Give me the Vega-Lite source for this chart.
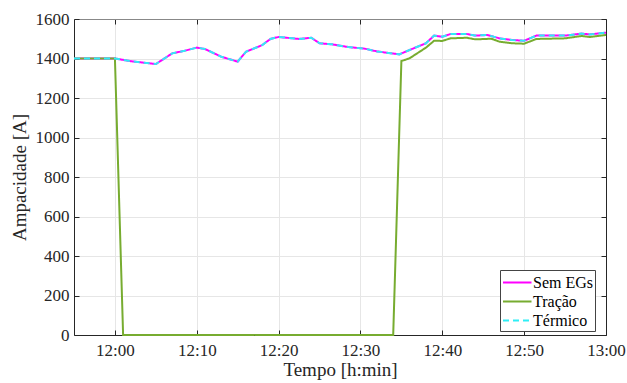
{
  "$schema": "https://vega.github.io/schema/vega-lite/v6.json",
  "width": 532,
  "height": 316,
  "autosize": {"type": "none"},
  "padding": {"left": 74, "top": 19, "right": 21, "bottom": 48},
  "background": "white",
  "config": {
    "font": "Liberation Serif",
    "view": {"stroke": null},
    "axis": {
      "labelFont": "Liberation Serif",
      "titleFont": "Liberation Serif",
      "labelFontSize": 17,
      "titleFontSize": 19,
      "titleFontWeight": "normal",
      "labelColor": "#262626",
      "titleColor": "#262626",
      "domainColor": "#262626",
      "tickColor": "#262626",
      "gridColor": "#e6e6e6",
      "gridWidth": 1
    },
    "legend": {"labelFont": "Liberation Serif"}
  },
  "data": {
    "values": [
      {"t": "2020-01-01T11:55:00", "serie": "Sem EGs", "v": 1400},
      {"t": "2020-01-01T12:00:00", "serie": "Sem EGs", "v": 1400},
      {"t": "2020-01-01T12:02:00", "serie": "Sem EGs", "v": 1386},
      {"t": "2020-01-01T12:05:00", "serie": "Sem EGs", "v": 1372},
      {"t": "2020-01-01T12:07:00", "serie": "Sem EGs", "v": 1426},
      {"t": "2020-01-01T12:08:30", "serie": "Sem EGs", "v": 1439},
      {"t": "2020-01-01T12:10:00", "serie": "Sem EGs", "v": 1455},
      {"t": "2020-01-01T12:11:00", "serie": "Sem EGs", "v": 1448},
      {"t": "2020-01-01T12:13:00", "serie": "Sem EGs", "v": 1409},
      {"t": "2020-01-01T12:15:00", "serie": "Sem EGs", "v": 1384},
      {"t": "2020-01-01T12:16:00", "serie": "Sem EGs", "v": 1434},
      {"t": "2020-01-01T12:18:00", "serie": "Sem EGs", "v": 1468},
      {"t": "2020-01-01T12:19:00", "serie": "Sem EGs", "v": 1499},
      {"t": "2020-01-01T12:20:00", "serie": "Sem EGs", "v": 1509},
      {"t": "2020-01-01T12:22:30", "serie": "Sem EGs", "v": 1499},
      {"t": "2020-01-01T12:24:00", "serie": "Sem EGs", "v": 1505},
      {"t": "2020-01-01T12:25:00", "serie": "Sem EGs", "v": 1477},
      {"t": "2020-01-01T12:26:30", "serie": "Sem EGs", "v": 1472},
      {"t": "2020-01-01T12:28:30", "serie": "Sem EGs", "v": 1458},
      {"t": "2020-01-01T12:30:30", "serie": "Sem EGs", "v": 1450},
      {"t": "2020-01-01T12:32:00", "serie": "Sem EGs", "v": 1436},
      {"t": "2020-01-01T12:34:45", "serie": "Sem EGs", "v": 1421},
      {"t": "2020-01-01T12:36:00", "serie": "Sem EGs", "v": 1443},
      {"t": "2020-01-01T12:38:00", "serie": "Sem EGs", "v": 1477},
      {"t": "2020-01-01T12:39:00", "serie": "Sem EGs", "v": 1516},
      {"t": "2020-01-01T12:40:00", "serie": "Sem EGs", "v": 1510},
      {"t": "2020-01-01T12:41:00", "serie": "Sem EGs", "v": 1524},
      {"t": "2020-01-01T12:43:00", "serie": "Sem EGs", "v": 1524},
      {"t": "2020-01-01T12:44:00", "serie": "Sem EGs", "v": 1516},
      {"t": "2020-01-01T12:45:30", "serie": "Sem EGs", "v": 1519},
      {"t": "2020-01-01T12:47:00", "serie": "Sem EGs", "v": 1502},
      {"t": "2020-01-01T12:48:30", "serie": "Sem EGs", "v": 1494},
      {"t": "2020-01-01T12:50:00", "serie": "Sem EGs", "v": 1490},
      {"t": "2020-01-01T12:51:30", "serie": "Sem EGs", "v": 1516},
      {"t": "2020-01-01T12:55:00", "serie": "Sem EGs", "v": 1516},
      {"t": "2020-01-01T12:57:00", "serie": "Sem EGs", "v": 1526},
      {"t": "2020-01-01T12:58:00", "serie": "Sem EGs", "v": 1522},
      {"t": "2020-01-01T13:00:00", "serie": "Sem EGs", "v": 1531},

      {"t": "2020-01-01T11:55:00", "serie": "Tração", "v": 1400},
      {"t": "2020-01-01T12:00:00", "serie": "Tração", "v": 1400},
      {"t": "2020-01-01T12:01:00", "serie": "Tração", "v": 0},
      {"t": "2020-01-01T12:34:00", "serie": "Tração", "v": 0},
      {"t": "2020-01-01T12:35:00", "serie": "Tração", "v": 1387},
      {"t": "2020-01-01T12:36:00", "serie": "Tração", "v": 1401},
      {"t": "2020-01-01T12:38:00", "serie": "Tração", "v": 1455},
      {"t": "2020-01-01T12:39:00", "serie": "Tração", "v": 1490},
      {"t": "2020-01-01T12:40:00", "serie": "Tração", "v": 1489},
      {"t": "2020-01-01T12:41:00", "serie": "Tração", "v": 1502},
      {"t": "2020-01-01T12:43:00", "serie": "Tração", "v": 1505},
      {"t": "2020-01-01T12:44:00", "serie": "Tração", "v": 1497},
      {"t": "2020-01-01T12:46:00", "serie": "Tração", "v": 1500},
      {"t": "2020-01-01T12:47:00", "serie": "Tração", "v": 1485},
      {"t": "2020-01-01T12:48:30", "serie": "Tração", "v": 1477},
      {"t": "2020-01-01T12:50:00", "serie": "Tração", "v": 1475},
      {"t": "2020-01-01T12:51:30", "serie": "Tração", "v": 1499},
      {"t": "2020-01-01T12:55:00", "serie": "Tração", "v": 1502},
      {"t": "2020-01-01T12:57:00", "serie": "Tração", "v": 1514},
      {"t": "2020-01-01T12:58:00", "serie": "Tração", "v": 1509},
      {"t": "2020-01-01T13:00:00", "serie": "Tração", "v": 1519},

      {"t": "2020-01-01T11:55:00", "serie": "Térmico", "v": 1400},
      {"t": "2020-01-01T12:00:00", "serie": "Térmico", "v": 1400},
      {"t": "2020-01-01T12:02:00", "serie": "Térmico", "v": 1386},
      {"t": "2020-01-01T12:05:00", "serie": "Térmico", "v": 1372},
      {"t": "2020-01-01T12:07:00", "serie": "Térmico", "v": 1426},
      {"t": "2020-01-01T12:08:30", "serie": "Térmico", "v": 1439},
      {"t": "2020-01-01T12:10:00", "serie": "Térmico", "v": 1455},
      {"t": "2020-01-01T12:11:00", "serie": "Térmico", "v": 1448},
      {"t": "2020-01-01T12:13:00", "serie": "Térmico", "v": 1409},
      {"t": "2020-01-01T12:15:00", "serie": "Térmico", "v": 1384},
      {"t": "2020-01-01T12:16:00", "serie": "Térmico", "v": 1434},
      {"t": "2020-01-01T12:18:00", "serie": "Térmico", "v": 1468},
      {"t": "2020-01-01T12:19:00", "serie": "Térmico", "v": 1499},
      {"t": "2020-01-01T12:20:00", "serie": "Térmico", "v": 1509},
      {"t": "2020-01-01T12:22:30", "serie": "Térmico", "v": 1499},
      {"t": "2020-01-01T12:24:00", "serie": "Térmico", "v": 1505},
      {"t": "2020-01-01T12:25:00", "serie": "Térmico", "v": 1477},
      {"t": "2020-01-01T12:26:30", "serie": "Térmico", "v": 1472},
      {"t": "2020-01-01T12:28:30", "serie": "Térmico", "v": 1458},
      {"t": "2020-01-01T12:30:30", "serie": "Térmico", "v": 1450},
      {"t": "2020-01-01T12:32:00", "serie": "Térmico", "v": 1436},
      {"t": "2020-01-01T12:34:45", "serie": "Térmico", "v": 1421},
      {"t": "2020-01-01T12:36:00", "serie": "Térmico", "v": 1443},
      {"t": "2020-01-01T12:38:00", "serie": "Térmico", "v": 1477},
      {"t": "2020-01-01T12:39:00", "serie": "Térmico", "v": 1516},
      {"t": "2020-01-01T12:40:00", "serie": "Térmico", "v": 1510},
      {"t": "2020-01-01T12:41:00", "serie": "Térmico", "v": 1524},
      {"t": "2020-01-01T12:43:00", "serie": "Térmico", "v": 1524},
      {"t": "2020-01-01T12:44:00", "serie": "Térmico", "v": 1516},
      {"t": "2020-01-01T12:45:30", "serie": "Térmico", "v": 1519},
      {"t": "2020-01-01T12:47:00", "serie": "Térmico", "v": 1502},
      {"t": "2020-01-01T12:48:30", "serie": "Térmico", "v": 1494},
      {"t": "2020-01-01T12:50:00", "serie": "Térmico", "v": 1490},
      {"t": "2020-01-01T12:51:30", "serie": "Térmico", "v": 1516},
      {"t": "2020-01-01T12:55:00", "serie": "Térmico", "v": 1516},
      {"t": "2020-01-01T12:57:00", "serie": "Térmico", "v": 1526},
      {"t": "2020-01-01T12:58:00", "serie": "Térmico", "v": 1522},
      {"t": "2020-01-01T13:00:00", "serie": "Térmico", "v": 1531}
    ]
  },
  "layer": [
    {
      "mark": {"type": "line", "strokeWidth": 2, "opacity": 0},
      "encoding": {
        "x": {
          "field": "t", "type": "temporal",
          "scale": {"domain": [{"year": 2020, "month": 1, "date": 1, "hours": 11, "minutes": 55}, {"year": 2020, "month": 1, "date": 1, "hours": 13, "minutes": 0}], "nice": false},
          "axis": {"orient": "top", "labels": false, "title": null, "grid": false, "tickSize": -5, "domainColor": "#888888",
            "values": [
              {"year": 2020, "month": 1, "date": 1, "hours": 12, "minutes": 0},
              {"year": 2020, "month": 1, "date": 1, "hours": 12, "minutes": 10},
              {"year": 2020, "month": 1, "date": 1, "hours": 12, "minutes": 20},
              {"year": 2020, "month": 1, "date": 1, "hours": 12, "minutes": 30},
              {"year": 2020, "month": 1, "date": 1, "hours": 12, "minutes": 40},
              {"year": 2020, "month": 1, "date": 1, "hours": 12, "minutes": 50},
              {"year": 2020, "month": 1, "date": 1, "hours": 13, "minutes": 0}
            ]}
        },
        "y": {
          "field": "v", "type": "quantitative",
          "scale": {"domain": [0, 1600], "nice": false},
          "axis": {"orient": "right", "labels": false, "title": null, "grid": false, "tickSize": -5, "values": [0, 200, 400, 600, 800, 1000, 1200, 1400, 1600]}
        },
        "detail": {"field": "serie"}
      }
    },
    {
      "mark": {"type": "line", "strokeWidth": 2},
      "encoding": {
        "x": {
          "field": "t", "type": "temporal",
          "axis": {"orient": "bottom", "format": "%H:%M", "title": "Tempo [h:min]", "labelFont": "Liberation Serif", "labelFontSize": 17, "titleFont": "Liberation Serif", "grid": true, "tickSize": -5, "labelPadding": 12, "titlePadding": 2, "labelFlush": false,
            "values": [
              {"year": 2020, "month": 1, "date": 1, "hours": 12, "minutes": 0},
              {"year": 2020, "month": 1, "date": 1, "hours": 12, "minutes": 10},
              {"year": 2020, "month": 1, "date": 1, "hours": 12, "minutes": 20},
              {"year": 2020, "month": 1, "date": 1, "hours": 12, "minutes": 30},
              {"year": 2020, "month": 1, "date": 1, "hours": 12, "minutes": 40},
              {"year": 2020, "month": 1, "date": 1, "hours": 12, "minutes": 50},
              {"year": 2020, "month": 1, "date": 1, "hours": 13, "minutes": 0}
            ]}
        },
        "y": {
          "field": "v", "type": "quantitative",
          "axis": {"orient": "left", "format": "d", "title": "Ampacidade [A]", "labelFont": "Liberation Serif", "labelFontSize": 17, "titleFont": "Liberation Serif", "grid": true, "tickSize": -5, "labelPadding": 10, "titlePadding": 6, "values": [0, 200, 400, 600, 800, 1000, 1200, 1400, 1600]}
        },
        "color": {
          "field": "serie", "type": "nominal",
          "sort": ["Sem EGs", "Tração", "Térmico"],
          "scale": {"domain": ["Sem EGs", "Tração", "Térmico"], "range": ["#FF00FF", "#77AC30", "#2EEEF5"]},
          "legend": {
            "title": null, "orient": "none", "legendX": 426, "legendY": 251,
            "symbolType": "M-1,0H2", "symbolSize": 361, "symbolStrokeWidth": 2,
            "labelFont": "Liberation Serif", "labelFontSize": 16, "labelColor": "#000000",
            "strokeColor": "#444444", "fillColor": "white", "padding": 2, "rowPadding": 0, "labelOffset": 10
          }
        },
        "strokeDash": {
          "field": "serie", "type": "nominal",
          "sort": ["Sem EGs", "Tração", "Térmico"],
          "scale": {"domain": ["Sem EGs", "Tração", "Térmico"], "range": [[1, 0], [1, 0], [6, 4]]},
          "legend": {
            "title": null, "orient": "none", "legendX": 426, "legendY": 251,
            "symbolType": "M-1,0H2", "symbolSize": 361, "symbolStrokeWidth": 2,
            "labelFont": "Liberation Serif", "labelFontSize": 16, "labelColor": "#000000",
            "strokeColor": "#444444", "fillColor": "white", "padding": 2, "rowPadding": 0, "labelOffset": 10
          }
        }
      }
    }
  ]
}
